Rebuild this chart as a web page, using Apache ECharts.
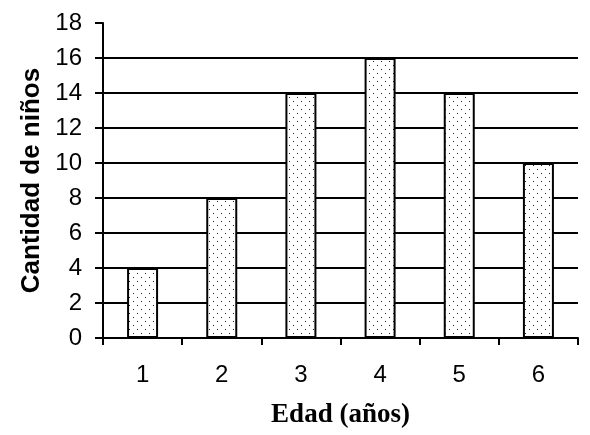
<!DOCTYPE html>
<html><head><meta charset="utf-8">
<script src="https://cdn.jsdelivr.net/npm/echarts@6/dist/echarts.min.js"></script>
<style>html,body{margin:0;padding:0;background:#fff}#c{width:590px;height:435px}</style>
</head><body><div id="c"></div>
<script>
const categories = ['1','2','3','4','5','6'];
const values = [4, 8, 14, 16, 14, 10];
const yTicks = {min: 0, max: 18, interval: 2};

const pc = document.createElement('canvas');
pc.width = 8; pc.height = 8;
const ctx = pc.getContext('2d');
ctx.fillStyle = '#fff'; ctx.fillRect(0,0,8,8);
ctx.fillStyle = '#222';
ctx.fillRect(1,1,1,1); ctx.fillRect(5,5,1,1);

const gridColors = ['#000','#000','#000','#000','#000','#000','#000','#000','#000','rgba(0,0,0,0)'];

const chart = echarts.init(document.getElementById('c'));
chart.setOption({
  animation: false,
  backgroundColor: '#fff',
  grid: {left: 103, top: 23, right: 12, bottom: 97},
  xAxis: {
    type: 'category', data: categories,
    axisLine: {lineStyle: {color: '#000', width: 2}},
    axisTick: {show: true, length: 7, lineStyle: {color: '#000', width: 2}},
    axisLabel: {color: '#000', fontFamily: '"Liberation Sans Narrow", "Liberation Sans"', fontSize: 24, margin: 25},
    name: 'Edad (años)', nameLocation: 'middle', nameGap: 64,
    nameTextStyle: {color: '#000', fontFamily: 'Liberation Serif', fontWeight: 'bold', fontSize: 27}
  },
  yAxis: {
    type: 'value', min: yTicks.min, max: yTicks.max, interval: yTicks.interval,
    axisLine: {show: true, lineStyle: {color: '#000', width: 2}},
    axisTick: {show: true, length: 8, lineStyle: {color: '#000', width: 2}},
    splitLine: {show: true, lineStyle: {color: gridColors, width: 2}},
    axisLabel: {color: '#000', fontFamily: '"Liberation Sans Narrow", "Liberation Sans"', fontSize: 24, margin: 21},
    name: 'Cantidad de niños', nameLocation: 'middle', nameGap: 56,
    nameTextStyle: {color: '#000', fontFamily: 'Liberation Sans', fontWeight: 'bold', fontSize: 26}
  },
  series: [{
    type: 'bar', data: values, barWidth: 31,
    itemStyle: {color: {image: pc, repeat: 'repeat'}, borderColor: '#000', borderWidth: 2}
  }]
});
</script></body></html>
